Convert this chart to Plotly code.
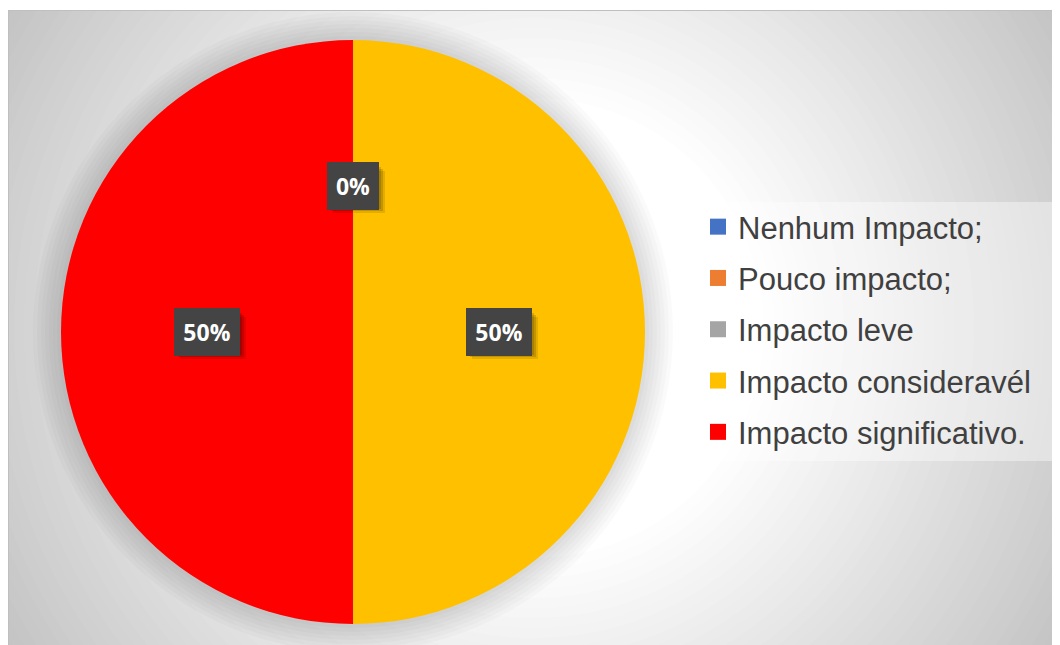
import math
import plotly.graph_objects as go

# ---- data ----
categories = ["Nenhum Impacto;", "Pouco impacto;", "Impacto leve",
              "Impacto consideravél", "Impacto significativo."]
values = [0, 0, 0, 50, 50]
colors = ["#4472C4", "#ED7D31", "#A5A5A5", "#FFC000", "#FF0000"]

# ---- layout constants (page pixels; page body has an 8px margin) ----
OX, OY = 8, 8
W, H = 1052, 637
CX, CY, R = 353, 332, 292          # pie centre / radius in page pixels


def px(x):
    return (x - OX) / W


def py(y):
    return 1 - (y - OY) / H


fig = go.Figure()

fig.add_trace(go.Pie(
    labels=categories, values=values,
    marker=dict(colors=colors, line=dict(width=0)),
    sort=False, direction="clockwise", rotation=0,
    textinfo="none", hoverinfo="label+percent",
    showlegend=False,
    domain=dict(x=[px(CX - R), px(CX + R)], y=[py(CY + R), py(CY - R)]),
))

# legend entries (square markers), one group each for spacing
for i, (cat, col) in enumerate(zip(categories, colors)):
    fig.add_trace(go.Scatter(
        x=[None], y=[None], mode="markers", name=cat,
        marker=dict(symbol="square", size=16, color=col),
        legendgroup=f"g{i}", showlegend=True,
    ))

# ---- background: radial gradient ----
shapes = []
GX, GY = 534, 328
r = 640
while r >= 230:
    c = int(round(max(196, min(255, 255 - 0.153 * (r - 230)))))
    shapes.append(dict(type="circle", xref="paper", yref="paper", layer="below",
                       x0=px(GX - r), x1=px(GX + r), y0=py(GY + r), y1=py(GY - r),
                       fillcolor=f"rgb({c},{c},{c})", line=dict(width=0)))
    r -= 10
# soft shadow around the pie
for k in range(7, 0, -1):
    rr = R + 4 * k
    shapes.append(dict(type="circle", xref="paper", yref="paper", layer="below",
                       x0=px(CX - rr), x1=px(CX + rr), y0=py(CY + rr), y1=py(CY - rr),
                       fillcolor="rgba(0,0,0,0.018)", line=dict(width=0)))
# white top margin + border
shapes.append(dict(type="rect", xref="paper", yref="paper", layer="below",
                   x0=-0.01, x1=1.01, y0=py(10), y1=1.01, fillcolor="white", line=dict(width=0)))
shapes.append(dict(type="line", xref="paper", yref="paper", layer="below",
                   x0=px(8), x1=1.01, y0=py(10.5), y1=py(10.5), line=dict(color="#bfbfbf", width=1)))
shapes.append(dict(type="line", xref="paper", yref="paper", layer="below",
                   x0=px(8.5), x1=px(8.5), y0=-0.01, y1=py(10), line=dict(color="#bfbfbf", width=1)))
# legend panel background
shapes.append(dict(type="rect", xref="paper", yref="paper", layer="below",
                   x0=px(697), x1=px(1052), y0=py(461), y1=py(202),
                   fillcolor="rgba(255,255,255,0.4)", line=dict(width=0)))

# ---- data labels (positions computed from values) ----
annotations = []
total = sum(values)
cum = 0
seen = set()
for v in values:
    mid = (cum + v / 2) / total * 2 * math.pi
    cum += v
    lx = CX + 0.5 * R * math.sin(mid)
    ly = CY - 0.5 * R * math.cos(mid)
    key = (round(lx), round(ly))
    if key in seen:          # coincident labels (zero slices) drawn once
        continue
    seen.add(key)
    txt = f"{round(100 * v / total)}%"
    wtxt = 14 * len(txt) + 8
    bw, bh = wtxt + 16, 42
    # soft box shadow
    for s, a in ((6, 0.10), (4, 0.14), (2, 0.14)):
        shapes.append(dict(type="rect", xref="paper", yref="paper", layer="above",
                           x0=px(lx - bw / 2 + s), x1=px(lx + bw / 2 + s),
                           y0=py(ly + bh / 2 + s), y1=py(ly - bh / 2 + s),
                           fillcolor=f"rgba(0,0,0,{a})", line=dict(width=0)))
    annotations.append(dict(x=px(lx), y=py(ly), xref="paper", yref="paper",
                            xanchor="center", yanchor="middle",
                            text=f"<b>{txt}</b>", showarrow=False,
                            font=dict(family="Open Sans", size=23, color="white"),
                            bgcolor="#444444", borderpad=7, borderwidth=1,
                            bordercolor="#444444", width=wtxt))

fig.update_layout(
    width=W, height=H,
    margin=dict(l=0, r=0, t=0, b=0),
    paper_bgcolor="white", plot_bgcolor="rgba(0,0,0,0)",
    xaxis=dict(visible=False), yaxis=dict(visible=False),
    shapes=shapes, annotations=annotations,
    legend=dict(x=px(698), y=py(200), xanchor="left", yanchor="top",
                bgcolor="rgba(0,0,0,0)",
                font=dict(family="Liberation Sans, Arial", size=31, color="#404040"),
                traceorder="grouped", tracegroupgap=8, itemwidth=30),
    showlegend=True,
)

fig.write_html("out.html")
